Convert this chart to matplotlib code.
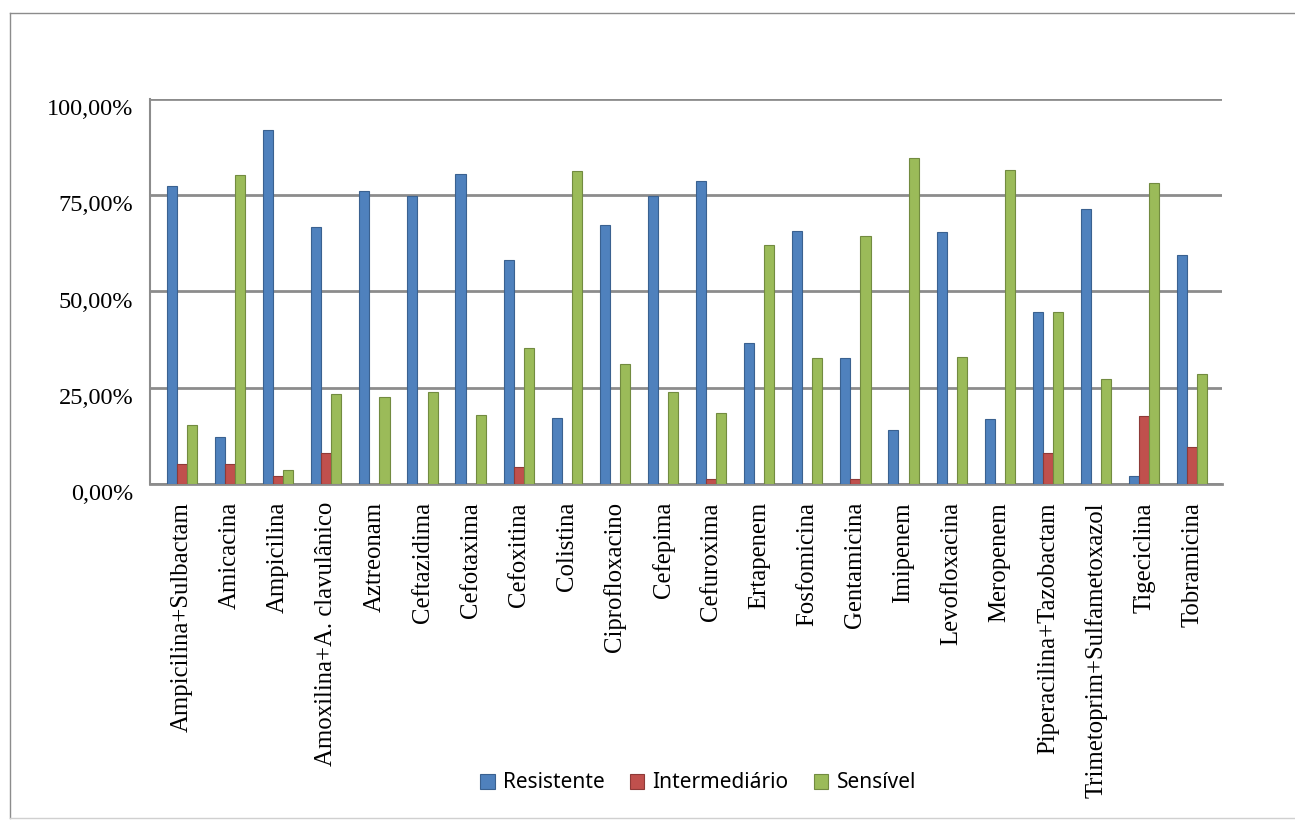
import numpy as np
import matplotlib.pyplot as plt
import matplotlib.transforms as mtransforms
from matplotlib.lines import Line2D

antibioticos = ["Ampicilina+Sulbactam", "Amicacina", "Ampicilina",
                "Amoxilina+A. clavulânico", "Aztreonam", "Ceftazidima",
                "Cefotaxima", "Cefoxitina", "Colistina", "Ciprofloxacino",
                "Cefepima", "Cefuroxima", "Ertapenem", "Fosfomicina",
                "Gentamicina", "Imipenem", "Levofloxacina", "Meropenem",
                "Piperacilina+Tazobactam", "Trimetoprim+Sulfametoxazol",
                "Tigeciclina", "Tobramicina"]

resistente = [77.4, 12.3, 92.0, 66.7, 76.0, 74.8, 80.6, 58.3, 17.2, 67.3, 74.7,
              78.6, 36.5, 65.8, 32.6, 13.9, 65.4, 16.9, 44.8, 71.3, 2.2, 59.6]
intermediario = [5.2, 5.2, 2.2, 8.1, 0.0, 0.0, 0.0, 4.5, 0.0, 0.0, 0.0,
                 1.2, 0.0, 0.0, 1.2, 0.0, 0.0, 0.0, 8.1, 0.0, 17.6, 9.5]
sensivel = [15.4, 80.3, 3.7, 23.3, 22.6, 23.9, 17.8, 35.2, 81.3, 31.1, 23.9,
            18.5, 62.1, 32.6, 64.5, 84.6, 33.0, 81.6, 44.8, 27.2, 78.1, 28.6]

series = [("Resistente", resistente, "#4F81BD", "#3A6190"),
          ("Intermediário", intermediario, "#C0504D", "#8E3A38"),
          ("Sensível", sensivel, "#9BBB59", "#728B40")]

W, H = 1295, 823
fig = plt.figure(figsize=(W / 100, H / 100), dpi=100)
ax = fig.add_axes([150 / W, 1 - 484 / H, (1222 - 150) / W, (484 - 99) / H])

x = np.arange(len(antibioticos))
larg = 0.21
for k, (nome, vals, cor, borda) in enumerate(series):
    ax.bar(x + (k - 1) * larg, vals, larg, color=cor, edgecolor=borda,
           linewidth=0.8, label=nome, zorder=3)

ax.set_xlim(-0.665, 21.62)
ax.set_ylim(0, 100)
ax.set_yticks([0, 25, 50, 75, 100])
ax.set_yticklabels(["0,00%", "25,00%", "50,00%", "75,00%", "100,00%"],
                   family="Liberation Serif", fontsize=17.5)
ax.set_xticks(x)
ax.set_xticklabels(antibioticos, rotation=90, family="Liberation Serif",
                   fontsize=17.8)
ax.tick_params(axis="x", length=0, pad=13)
ax.tick_params(axis="y", length=0, pad=12)
ax.grid(axis="y", color="#8C8C8C", linewidth=2, zorder=0)

# rotulos do eixo y um pouco abaixo das linhas (efeito 3D do original)
desloc = mtransforms.ScaledTranslation(0, -8 / 100, fig.dpi_scale_trans)
for lb in ax.get_yticklabels():
    lb.set_transform(lb.get_transform() + desloc)

for lado in ["top", "right"]:
    ax.spines[lado].set_visible(False)
ax.spines["left"].set_color("#8C8C8C")
ax.spines["left"].set_linewidth(1.5)
ax.spines["bottom"].set_color("#8C8C8C")
ax.spines["bottom"].set_linewidth(2)

leg = fig.legend(loc="center", bbox_to_anchor=(698 / W, 1 - 783 / H), ncol=3,
                 frameon=False, handlelength=0.7, handleheight=0.7,
                 handletextpad=0.4, columnspacing=1.2,
                 prop={"family": "Noto Sans", "size": 15})

# moldura da figura
fig.add_artist(Line2D([10 / W, 10 / W], [1 - 13 / H, 1 - 818 / H],
                      transform=fig.transFigure, color="#8C8C8C", lw=1))
fig.add_artist(Line2D([10 / W, 1], [1 - 13 / H, 1 - 13 / H],
                      transform=fig.transFigure, color="#8C8C8C", lw=1))
fig.add_artist(Line2D([10 / W, 1], [1 - 818 / H, 1 - 818 / H],
                      transform=fig.transFigure, color="#D0D0D0", lw=1))

fig.savefig("out.png", dpi=100)
